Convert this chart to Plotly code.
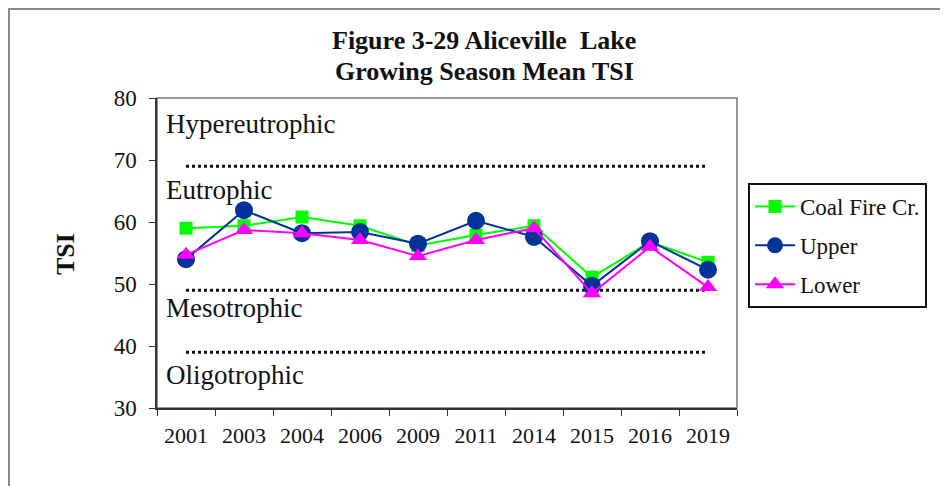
import plotly.graph_objects as go

years = ["2001", "2003", "2004", "2006", "2009", "2011", "2014", "2015", "2016", "2019"]
coal_fire = [59.0, 59.4, 60.8, 59.4, 56.2, 57.9, 59.4, 51.1, 56.8, 53.5]
upper = [54.0, 61.9, 58.2, 58.4, 56.5, 60.2, 57.6, 49.7, 56.9, 52.3]
lower = [54.7, 58.7, 58.2, 57.1, 54.5, 57.1, 59.0, 48.5, 56.0, 49.5]

zone_lines = [69, 49, 39]
zone_labels = ["Hypereutrophic", "Eutrophic", "Mesotrophic", "Oligotrophic"]
zone_label_y = [75.8, 65.2, 46.1, 35.3]

y_ticks = [30, 40, 50, 60, 70, 80]

FONT = "Liberation Serif"

# window-pixel -> paper helpers (plot area spans x 157..737, y 98..408 in the window)
def px(x):
    return (x - 157) / 580

def py(y):
    return (408 - y) / 310

fig = go.Figure()
fig.add_trace(go.Scatter(x=years, y=coal_fire, name="Coal Fire Cr.", mode="lines+markers",
                         line=dict(color="#00ff00", width=2),
                         marker=dict(symbol="square", size=13, color="#00ff00"),
                         legendgroup="a"))
fig.add_trace(go.Scatter(x=years, y=upper, name="Upper", mode="lines+markers",
                         line=dict(color="#003399", width=2),
                         marker=dict(symbol="circle", size=18, color="#003399"),
                         legendgroup="b"))
fig.add_trace(go.Scatter(x=years, y=lower, name="Lower", mode="lines+markers",
                         line=dict(color="#ff00ff", width=2),
                         marker=dict(symbol="triangle-up", size=16, color="#ff00ff"),
                         legendgroup="c"))

shapes = []
for v in zone_lines:
    shapes.append(dict(type="line", xref="x", yref="y", x0=0, x1=len(years) - 1, y0=v, y1=v,
                       line=dict(color="#111111", width=3, dash="dot"), layer="below"))
shapes.append(dict(type="rect", xref="paper", yref="paper", x0=0, x1=1, y0=0, y1=1,
                   line=dict(color="#777777", width=1.5), layer="below"))
shapes.append(dict(type="rect", xref="paper", yref="paper", x0=px(9), x1=px(990),
                   y0=py(520), y1=py(9),
                   line=dict(color="#888888", width=2)))
fig.update_layout(shapes=shapes)

annotations = []
for lab, yv in zip(zone_labels, zone_label_y):
    annotations.append(dict(text=lab, xref="paper", yref="y", x=px(164), y=yv,
                            xanchor="left", yanchor="middle", showarrow=False,
                            font=dict(family=FONT, size=27, color="#111111")))
annotations.append(dict(text="<b>Figure 3-29 Aliceville  Lake</b>", xref="paper", yref="paper",
                        x=px(484), y=py(40), xanchor="center", yanchor="middle",
                        showarrow=False, font=dict(family=FONT, size=26, color="#111111")))
annotations.append(dict(text="<b>Growing Season Mean TSI</b>", xref="paper", yref="paper",
                        x=px(484), y=py(72), xanchor="center", yanchor="middle",
                        showarrow=False, font=dict(family=FONT, size=26, color="#111111")))
annotations.append(dict(text="<b>TSI</b>", xref="paper", yref="paper", x=px(66),
                        y=py(254), xanchor="center", yanchor="middle", textangle=-90,
                        showarrow=False, font=dict(family=FONT, size=26, color="#111111")))
fig.update_layout(annotations=annotations)

fig.update_layout(
    width=940, height=478,
    font=dict(family=FONT, color="#111111"),
    margin=dict(l=149, r=211, t=90, b=78),
    paper_bgcolor="white", plot_bgcolor="white",
    showlegend=True,
    legend=dict(x=px(748), y=py(183), xanchor="left", yanchor="top",
                bordercolor="#111111", borderwidth=2, bgcolor="white",
                font=dict(family=FONT, size=23, color="#111111"),
                tracegroupgap=6, itemwidth=40),
    xaxis=dict(type="category", showgrid=False, zeroline=False,
               showline=True, linecolor="#333333", linewidth=1.5,
               ticks="outside", tickson="boundaries", ticklen=6, tickcolor="#333333",
               ticklabelstandoff=7,
               tickfont=dict(family=FONT, size=22, color="#111111"),
               range=[-0.5, len(years) - 0.5]),
    yaxis=dict(range=[30, 80], tickvals=y_ticks, showgrid=False, zeroline=False,
               showline=True, linecolor="#333333", linewidth=1.5,
               ticks="outside", ticklen=6, tickcolor="#333333", ticklabelstandoff=8,
               tickfont=dict(family=FONT, size=23, color="#111111")),
)

fig.write_html("out.html")
